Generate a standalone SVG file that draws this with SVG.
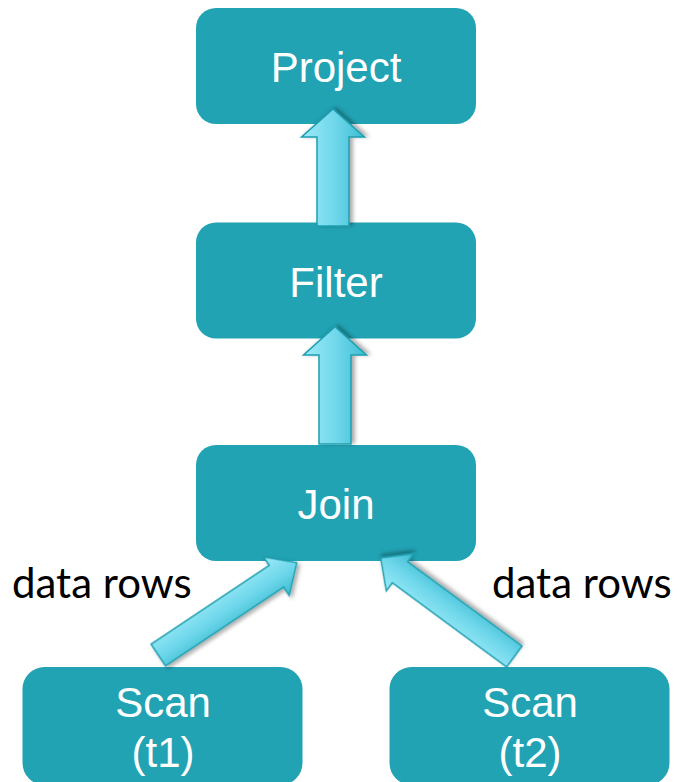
<svg xmlns="http://www.w3.org/2000/svg" width="680" height="782" viewBox="0 0 680 782">
  <defs>
    <linearGradient id="ag" x1="0" y1="0" x2="0" y2="1">
      <stop offset="0" stop-color="#9CEBF8"/>
      <stop offset="0.55" stop-color="#6DD6EA"/>
      <stop offset="1" stop-color="#3DBCD1"/>
    </linearGradient>
    <filter id="sh" x="-30%" y="-30%" width="160%" height="160%">
      <feDropShadow dx="1" dy="3" stdDeviation="2" flood-color="#000" flood-opacity="0.35"/>
    </filter>
  </defs>
  <style>
    .box { fill: #21A3B4; }
    .lbl { font-family: "Liberation Sans", Arial, sans-serif; font-size: 42px; fill: #ffffff; text-anchor: middle; }
    .side { font-family: Lato, "Open Sans", sans-serif; font-size: 42px; fill: #000000; }
    .arr { fill: url(#ag); stroke: #1E9FB0; stroke-width: 1.5; stroke-linejoin: miter; filter: url(#sh); }
  </style>
  <rect width="680" height="782" fill="#ffffff"/>

  <g id="project">
    <rect class="box" x="196" y="8" width="280" height="116" rx="20"/>
    <text class="lbl" x="336" y="82">Project</text>
  </g>
  <g id="filter">
    <rect class="box" x="196" y="222.5" width="280" height="116" rx="20"/>
    <text class="lbl" x="336" y="297">Filter</text>
  </g>
  <g id="join">
    <rect class="box" x="196" y="445" width="280" height="116" rx="20"/>
    <text class="lbl" x="336" y="519">Join</text>
  </g>
  <g id="scan1">
    <rect class="box" x="22.5" y="667" width="280" height="118" rx="22"/>
    <text class="lbl" x="163" y="717">Scan</text>
    <text class="lbl" x="163" y="767">(t1)</text>
  </g>
  <g id="scan2">
    <rect class="box" x="389.5" y="667" width="280" height="118" rx="22"/>
    <text class="lbl" x="530" y="717">Scan</text>
    <text class="lbl" x="530" y="767">(t2)</text>
  </g>

  <g id="connectors">
    <polygon class="arr" transform="translate(333,226) rotate(-90)" points="0,-16 89,-16 89,-31.5 117,0 89,31.5 89,16 0,16"/>
    <polygon class="arr" transform="translate(335,444) rotate(-90)" points="0,-16 89,-16 89,-31.5 117.3,0 89,31.5 89,16 0,16"/>
    <polygon class="arr" transform="translate(158.3,655) rotate(-33.7)" points="0,-13 142,-13 142,-23 166.4,0 142,23 142,13 0,13"/>
    <polygon class="arr" transform="translate(514.3,656.5) rotate(-143.6)" points="0,-13 142,-13 142,-23 166,0 142,23 142,13 0,13"/>
  </g>

  <text class="side" x="12" y="598">data rows</text>
  <text class="side" x="492" y="598">data rows</text>
</svg>
